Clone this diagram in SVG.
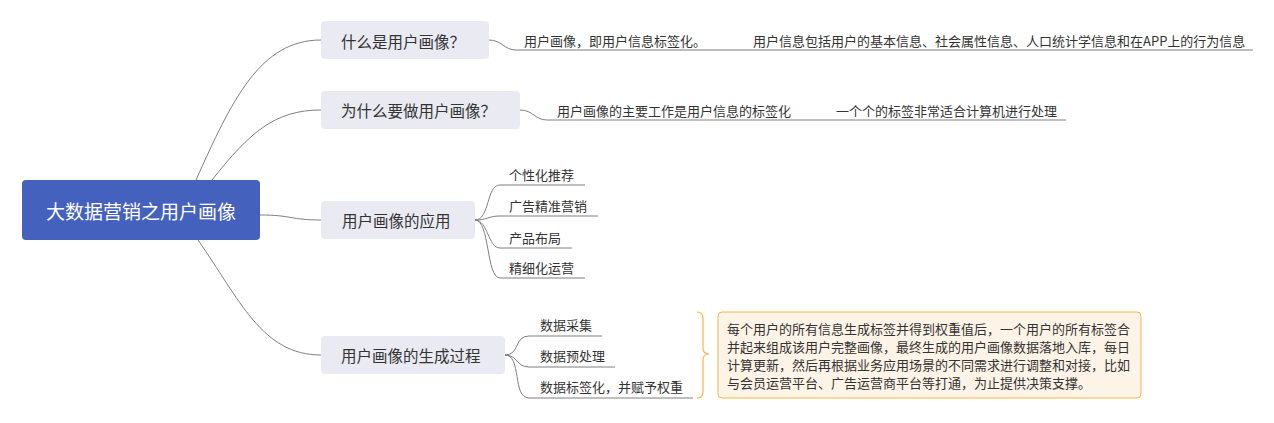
<svg xmlns="http://www.w3.org/2000/svg" width="1274" height="423" viewBox="0 0 1274 423">
<style>
text{font-family:"Noto Sans CJK SC","Liberation Sans",sans-serif;dominant-baseline:central;}
.root{fill:#4461BD;}
.rootT{fill:#ffffff;font-size:19px;}
.main{fill:#E9EAF2;}
.mainT{fill:#333333;font-size:15.5px;}
.sub{fill:#333333;font-size:13px;}
.line{fill:none;stroke:#7f7f7f;stroke-width:1;}
.call{fill:#FDF3E7;stroke:#F4B64B;stroke-width:1;}
.brace{fill:none;stroke:#F4B64B;stroke-width:1.2;}
</style>
<rect width="1274" height="423" fill="#ffffff"/>
<g id="connectors">
<path class="line" d="M196,180 C232,100 260,40 321,40"/>
<path class="line" d="M212,180 C250,132 275,110 321,110"/>
<path class="line" d="M260,215 C292,215 290,220 321,220"/>
<path class="line" d="M198,240 C240,300 262,355 321,355"/>
<path class="line" d="M489,40 C502,40 504,50 516,50 L1253,50"/>
<path class="line" d="M520,110 C533,110 535,120 547,120 L1066,120"/>
<path class="line" d="M475,220 C490,220 486,185 500,185 L585,185"/>
<path class="line" d="M475,220 C488,220 488,216 500,216 L598,216"/>
<path class="line" d="M475,220 C488,220 488,248 500,248 L572,248"/>
<path class="line" d="M475,220 C490,220 486,278 500,278 L585,278"/>
<path class="line" d="M505,355 C520,355 514,336 529,336 L602,336"/>
<path class="line" d="M505,355 C518,355 516,367 529,367 L615,367"/>
<path class="line" d="M505,355 C522,355 512,398 529,398 L693,398"/>
</g>
<g id="root">
<rect class="root" x="22" y="180" width="238" height="60" rx="4"/>
<text class="rootT" x="141" y="210" text-anchor="middle">大数据营销之用户画像</text>
</g>
<g id="topic1">
<rect class="main" x="321" y="21" width="168" height="38" rx="4"/>
<text class="mainT" x="341" y="41">什么是用户画像？</text>
</g>
<g id="topic1-a"><text class="sub" x="524" y="40">用户画像，即用户信息标签化。</text></g>
<g id="topic1-b"><text class="sub" x="753" y="40">用户信息包括用户的基本信息、社会属性信息、人口统计学信息和在APP上的行为信息</text></g>
<g id="topic2">
<rect class="main" x="321" y="91" width="199" height="38" rx="4"/>
<text class="mainT" x="341" y="110">为什么要做用户画像？</text>
</g>
<g id="topic2-a"><text class="sub" x="557" y="110">用户画像的主要工作是用户信息的标签化</text></g>
<g id="topic2-b"><text class="sub" x="836" y="110">一个个的标签非常适合计算机进行处理</text></g>
<g id="topic3">
<rect class="main" x="321" y="201" width="154" height="38" rx="4"/>
<text class="mainT" x="342" y="220">用户画像的应用</text>
</g>
<g id="topic3-a"><text class="sub" x="509" y="174">个性化推荐</text></g>
<g id="topic3-b"><text class="sub" x="509" y="205">广告精准营销</text></g>
<g id="topic3-c"><text class="sub" x="509" y="237">产品布局</text></g>
<g id="topic3-d"><text class="sub" x="509" y="267">精细化运营</text></g>
<g id="topic4">
<rect class="main" x="321" y="336" width="184" height="38" rx="4"/>
<text class="mainT" x="341" y="355">用户画像的生成过程</text>
</g>
<g id="topic4-a"><text class="sub" x="540" y="324">数据采集</text></g>
<g id="topic4-b"><text class="sub" x="540" y="355">数据预处理</text></g>
<g id="topic4-c"><text class="sub" x="540" y="386">数据标签化，并赋予权重</text></g>
<g id="summary">
<path class="brace" d="M697,312 Q703,312 703,318 L703,348 Q703,354 709,354 Q703,354 703,360 L703,392 Q703,398 697,398"/>
<rect class="call" x="718" y="312" width="423" height="86" rx="4"/>
<text class="sub" x="727" y="328">每个用户的所有信息生成标签并得到权重值后，一个用户的所有标签合</text>
<text class="sub" x="727" y="346">并起来组成该用户完整画像，最终生成的用户画像数据落地入库，每日</text>
<text class="sub" x="727" y="364">计算更新，然后再根据业务应用场景的不同需求进行调整和对接，比如</text>
<text class="sub" x="727" y="382">与会员运营平台、广告运营商平台等打通，为止提供决策支撑。</text>
</g>
</svg>
